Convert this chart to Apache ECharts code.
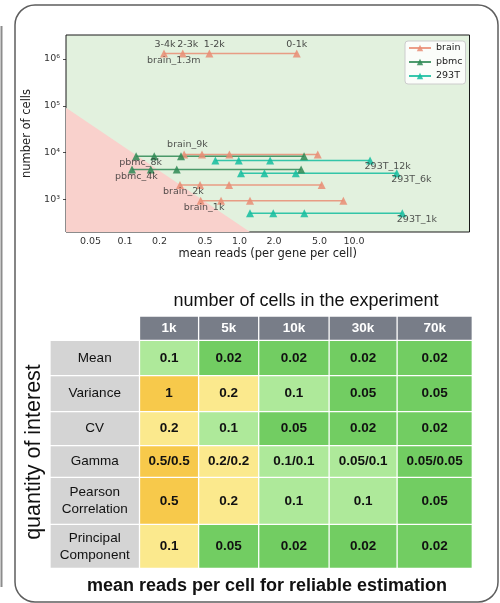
<!DOCTYPE html>
<html><head><meta charset="utf-8">
<script src="https://cdn.jsdelivr.net/npm/echarts@6/dist/echarts.min.js"></script>
<style>html,body{margin:0;padding:0;background:#fff}#c{width:500px;height:603px}</style>
</head><body><div id="c"></div>
<script>
// ---------------- top chart data ----------------
const xTickValues = [0.05, 0.1, 0.2, 0.5, 1, 2, 5, 10];
const xTickLabels = ['0.05', '0.1', '0.2', '0.5', '1.0', '2.0', '5.0', '10.0'];
const yTickValues = [1e3, 1e4, 1e5, 1e6];
const yTickLabels = ['10³', '10⁴', '10⁵', '10⁶'];
const tissues = ['brain', 'pbmc', '293T'];

const datasetNames  = ['brain_1.3m', 'brain_9k', 'pbmc_8k', '293T_12k', 'pbmc_4k', '293T_6k', 'brain_2k', 'brain_1k', '293T_1k'];
const datasetTissue = ['brain', 'brain', 'pbmc', '293T', 'pbmc', '293T', 'brain', 'brain', '293T'];
const datasetCells  = [1306127, 9128, 8381, 6800, 4340, 3610, 2030, 931, 505];

const readsBrain1_3m = [0.219, 0.319, 0.545, 3.16];
const readsBrain9k   = [0.328, 0.470, 0.815, 4.82];
const readsPbmc8k    = [0.125, 0.180, 0.308, 3.66];
const reads293T12k   = [0.615, 0.984, 1.85, 13.8];
const readsPbmc4k    = [0.115, 0.168, 0.283, 3.45];
const reads293T6k    = [1.03, 1.65, 3.10, 23.6];
const readsBrain2k   = [0.302, 0.452, 0.810, 5.22];
const readsBrain1k   = [0.458, 0.690, 1.235, 8.07];
const reads293T1k    = [1.235, 1.97, 3.68, 26.4];
const datasetReads = [readsBrain1_3m, readsBrain9k, readsPbmc8k, reads293T12k, readsPbmc4k, reads293T6k, readsBrain2k, readsBrain1k, reads293T1k];

const brain1_3mPointLabels = ['3-4k', '2-3k', '1-2k', '0-1k'];

// low-coverage (pink) region vertices [reads, cells]
const pinkRegion = [[0.0305, 91000], [1.235, 201], [0.0305, 201]];

// ---------------- table data ----------------
const colHeaders = ['1k', '5k', '10k', '30k', '70k'];
const rowHeaders = ['Mean', 'Variance', 'CV', 'Gamma', 'Pearson\nCorrelation', 'Principal\nComponent'];
const valMean     = ['0.1', '0.02', '0.02', '0.02', '0.02'];
const valVariance = ['1', '0.2', '0.1', '0.05', '0.05'];
const valCV       = ['0.2', '0.1', '0.05', '0.02', '0.02'];
const valGamma    = ['0.5/0.5', '0.2/0.2', '0.1/0.1', '0.05/0.1', '0.05/0.05'];
const valPearson  = ['0.5', '0.2', '0.1', '0.1', '0.05'];
const valPC       = ['0.1', '0.05', '0.02', '0.02', '0.02'];
// colour level per cell: 3 orange, 2 yellow, 1 light green, 0 green
const lvlMean     = [1, 0, 0, 0, 0];
const lvlVariance = [3, 2, 1, 0, 0];
const lvlCV       = [2, 1, 0, 0, 0];
const lvlGamma    = [3, 2, 1, 1, 0];
const lvlPearson  = [3, 2, 1, 1, 0];
const lvlPC       = [2, 0, 0, 0, 0];
const valueRows = [valMean, valVariance, valCV, valGamma, valPearson, valPC];
const levelRows = [lvlMean, lvlVariance, lvlCV, lvlGamma, lvlPearson, lvlPC];

// ---------------- styles / layout ----------------
const tissueColor = { brain: '#e98d74', pbmc: '#2f8a55', '293T': '#14bd9f' };
const levelColor = ['#72cd62', '#aee99a', '#fbe98d', '#f7c94b'];
const headerFill = '#787d88';
const rowHeadFill = '#d4d4d4';
const MPL = 'DejaVu Sans';
const SANS = 'Liberation Sans, Arial, Helvetica, sans-serif';
// column / row edges of the table (layout units)
const colEdges = [0, 89.5, 148.6, 208.7, 279.1, 347.1, 422.3];
const rowEdges = [0, 24.1, 59.5, 95.5, 129.5, 161.1, 208.1, 252.3];
// name-label placement per dataset
const nameLabelAt = { brain: 'first', pbmc: 'first', '293T': 'last' };
const pointLabelDx = [1, 5, 5, 0];

function tickLabel(values, labels) {
  return function (v) {
    for (let i = 0; i < values.length; i++) {
      if (Math.abs(v - values[i]) / values[i] < 1e-6) return labels[i];
    }
    return '';
  };
}

// ---------------- build series ----------------
const series = [];
series.push({
  type: 'custom', xAxisIndex: 0, yAxisIndex: 0, silent: true, z: 1,
  data: [pinkRegion[0]],
  renderItem: function (params, api) {
    return { type: 'polygon', shape: { points: pinkRegion.map(p => api.coord(p)) }, style: { fill: '#f9d1cc' } };
  }
});

const nameLabelData = [];
datasetNames.forEach(function (name, i) {
  const tissue = datasetTissue[i];
  const reads = datasetReads[i];
  const color = tissueColor[tissue];
  const data = reads.map(function (x, j) {
    const item = { value: [x, datasetCells[i]] };
    if (name === 'brain_1.3m') {
      item.label = { show: true, formatter: brain1_3mPointLabels[j], position: 'inside', align: 'center', verticalAlign: 'middle', offset: [pointLabelDx[j], -9] };
    }
    return item;
  });
  series.push({
    type: 'line', name: tissue, xAxisIndex: 0, yAxisIndex: 0, z: 3,
    data: data, symbol: 'triangle', symbolSize: 8, showSymbol: true,
    lineStyle: { color: color, width: 1.5, opacity: 0.85 },
    itemStyle: { color: color, opacity: 0.85 },
    label: { show: false, fontFamily: MPL, fontSize: 9.5, color: '#2a2a2a' },
    emphasis: { disabled: true }
  });
  const at = nameLabelAt[tissue] === 'first' ? reads[0] : reads[reads.length - 1];
  const dx = nameLabelAt[tissue] === 'first' ? -17 : -5.5;
  const dy = name === 'brain_9k' ? -9.5 : 6.5;
  nameLabelData.push({
    value: [at, datasetCells[i]],
    label: { show: true, formatter: name, position: 'inside', align: 'left', verticalAlign: 'middle', offset: [dx, dy] }
  });
});
series.push({
  type: 'scatter', name: 'labels', xAxisIndex: 0, yAxisIndex: 0, z: 4, silent: true,
  symbolSize: 1, itemStyle: { color: 'rgba(0,0,0,0)' },
  label: { fontFamily: MPL, fontSize: 9.5, color: '#2a2a2a' },
  data: nameLabelData
});

// table cells
const tableCells = [];
colHeaders.forEach((t, c) => tableCells.push({ col: c + 1, row: 0, kind: 'head', text: t }));
rowHeaders.forEach((t, r) => tableCells.push({ col: 0, row: r + 1, kind: 'rowhead', text: t }));
valueRows.forEach((vals, r) => vals.forEach((t, c) => tableCells.push({ col: c + 1, row: r + 1, kind: 'val', level: levelRows[r][c], text: t })));

series.push({
  type: 'custom', xAxisIndex: 1, yAxisIndex: 1, silent: true,
  data: tableCells.map(d => [d.col + 0.5, d.row + 0.5]),
  renderItem: function (params, api) {
    const cell = tableCells[params.dataIndex];
    const a = api.coord([colEdges[cell.col], rowEdges[cell.row]]);
    const b = api.coord([colEdges[cell.col + 1], rowEdges[cell.row + 1]]);
    const g = 0.65;
    const x = Math.min(a[0], b[0]) + g, y = Math.min(a[1], b[1]) + g;
    const w = Math.abs(b[0] - a[0]) - 2 * g, h = Math.abs(b[1] - a[1]) - 2 * g;
    let fill, txt, weight;
    if (cell.kind === 'head') { fill = headerFill; txt = '#ffffff'; weight = 'bold'; }
    else if (cell.kind === 'rowhead') { fill = rowHeadFill; txt = '#111111'; weight = 'normal'; }
    else { fill = levelColor[cell.level]; txt = '#111111'; weight = 'bold'; }
    return {
      type: 'group', children: [
        { type: 'rect', shape: { x: x, y: y, width: w, height: h }, style: { fill: fill } },
        { type: 'text', style: { x: x + w / 2, y: y + h / 2, text: cell.text, align: 'center', verticalAlign: 'middle', fill: txt, fontFamily: SANS, fontSize: 13.5, fontWeight: weight, lineHeight: 17 } }
      ]
    };
  }
});

const chart = echarts.init(document.getElementById('c'), null, { renderer: 'canvas' });
chart.setOption({
  animation: false,
  backgroundColor: '#ffffff',
  legend: {
    data: tissues, orient: 'vertical', left: 405, top: 41,
    padding: [1, 3, 2, 3], itemGap: 2, itemWidth: 22, itemHeight: 8,
    backgroundColor: 'rgba(255,255,255,0.85)', borderColor: '#cccccc', borderWidth: 1, borderRadius: 3,
    textStyle: { fontFamily: MPL, fontSize: 9.5, color: '#222', lineHeight: 12 },
    selectedMode: false
  },
  grid: [
    { left: 66, top: 35, width: 403.5, height: 197, show: true, backgroundColor: '#e2f1de', borderColor: '#1a1a1a', borderWidth: 1, containLabel: false, outerBoundsMode: 'none' },
    { left: 50, top: 316.2, width: 422.3, height: 252.3, show: false, containLabel: false, outerBoundsMode: 'none' }
  ],
  xAxis: [
    {
      gridIndex: 0, type: 'log', logBase: 10, min: 0.0305, max: 102,
      name: 'mean reads (per gene per cell)', nameLocation: 'middle', nameGap: 16,
      nameTextStyle: { fontFamily: MPL, fontSize: 11.5, color: '#222' },
      axisLine: { show: false },
      axisTick: { show: false, customValues: xTickValues },
      axisLabel: { customValues: xTickValues, formatter: tickLabel(xTickValues, xTickLabels), fontFamily: MPL, fontSize: 9.5, color: '#333', margin: 5 },
      splitLine: { show: false }, minorTick: { show: false }
    },
    { gridIndex: 1, type: 'value', min: 0, max: colEdges[colEdges.length - 1], show: false }
  ],
  yAxis: [
    {
      gridIndex: 0, type: 'log', logBase: 10, min: 201, max: 3.26e6,
      name: 'number of cells', nameLocation: 'middle', nameGap: 32, nameRotate: 90,
      nameTextStyle: { fontFamily: MPL, fontSize: 11.5, color: '#222' },
      axisLine: { show: false },
      axisTick: { show: true, length: 3, customValues: yTickValues, lineStyle: { color: '#222', width: 0.8 } },
      axisLabel: { customValues: yTickValues, formatter: tickLabel(yTickValues, yTickLabels), fontFamily: MPL, fontSize: 9.5, color: '#333', margin: 6 },
      splitLine: { show: false }, minorTick: { show: false }
    },
    { gridIndex: 1, type: 'value', inverse: true, min: 0, max: rowEdges[rowEdges.length - 1], show: false }
  ],
  graphic: [
    { type: 'rect', silent: true, shape: { x: 15, y: 5, width: 483, height: 597, r: 20 }, style: { fill: 'none', stroke: '#5e5e5e', lineWidth: 1.5 } },
    { type: 'line', silent: true, shape: { x1: 1.5, y1: 26, x2: 1.5, y2: 587 }, style: { stroke: '#8c8c8c', lineWidth: 2 } },
    { type: 'text', silent: true, style: { x: 306, y: 301.5, text: 'number of cells in the experiment', align: 'center', verticalAlign: 'middle', fill: '#111', fontFamily: SANS, fontSize: 18 } },
    { type: 'text', silent: true, style: { x: 267, y: 586, text: 'mean reads per cell for reliable estimation', align: 'center', verticalAlign: 'middle', fill: '#111', fontFamily: SANS, fontSize: 18, fontWeight: 'bold' } },
    { type: 'text', silent: true, x: 34, y: 452, rotation: Math.PI / 2, style: { x: 0, y: 0, text: 'quantity of interest', align: 'center', verticalAlign: 'middle', fill: '#111', fontFamily: SANS, fontSize: 21.5 } }
  ],
  series: series
});
</script>
</body></html>
